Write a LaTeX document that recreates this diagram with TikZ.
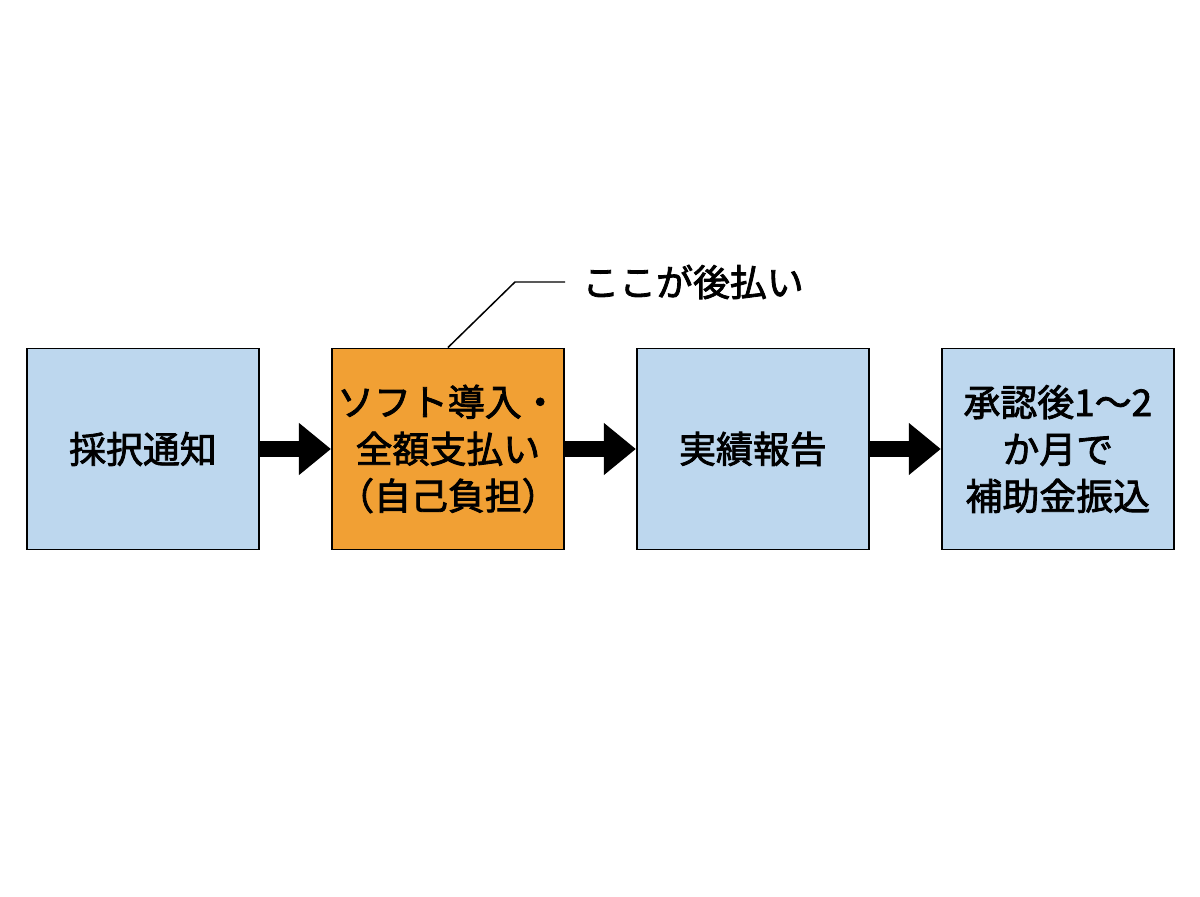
\documentclass[tikz,border=0pt]{standalone}
\usepackage{fontspec}
\setmainfont{Noto Sans CJK JP}[FakeBold=2.2]
\usepackage{xcolor}
\usepackage{tikz}
\usetikzlibrary{positioning,arrows.meta}

\definecolor{stepblue}{RGB}{189,215,238}
\definecolor{steporange}{RGB}{241,160,52}

\begin{document}
\begin{tikzpicture}[>={Triangle[length=6.4mm 0 0, width=10mm 0 0]},
  stepbox/.style={draw=black, line width=1.1pt, minimum width=4.64cm, minimum height=4.02cm,
                  align=center, inner sep=0pt, font=\fontsize{21}{26.7}\selectfont},
  flow/.style={->, line width=3.2mm}]
  \useasboundingbox (0,0) rectangle (24,17.92);
  % the four steps
  \node[stepbox, fill=stepblue] (notice) at (2.86,8.94) {採択通知};
  \node[stepbox, fill=steporange, right=1.42cm of notice] (pay) {ソフト導入・\\全額支払い\\（自己負担）};
  \node[stepbox, fill=stepblue, right=1.42cm of pay] (report) {実績報告};
  \node[stepbox, fill=stepblue, right=1.42cm of report] (grant) {承認後1〜2\\か月で\\補助金振込};
  \draw[flow] (notice) -- (pay);
  \draw[flow] (pay) -- (report);
  \draw[flow] (report) -- (grant);
  % callout
  \coordinate (kink) at (10.30,12.28);
  \coordinate[right=1cm of kink] (lineend);
  \node[right=3.4mm of lineend, inner sep=0pt, font=\fontsize{21}{26}\selectfont] (note) {ここが後払い};
  \draw[line width=0.85pt] (pay.north) -- (kink) -- (lineend);
\end{tikzpicture}
\end{document}
